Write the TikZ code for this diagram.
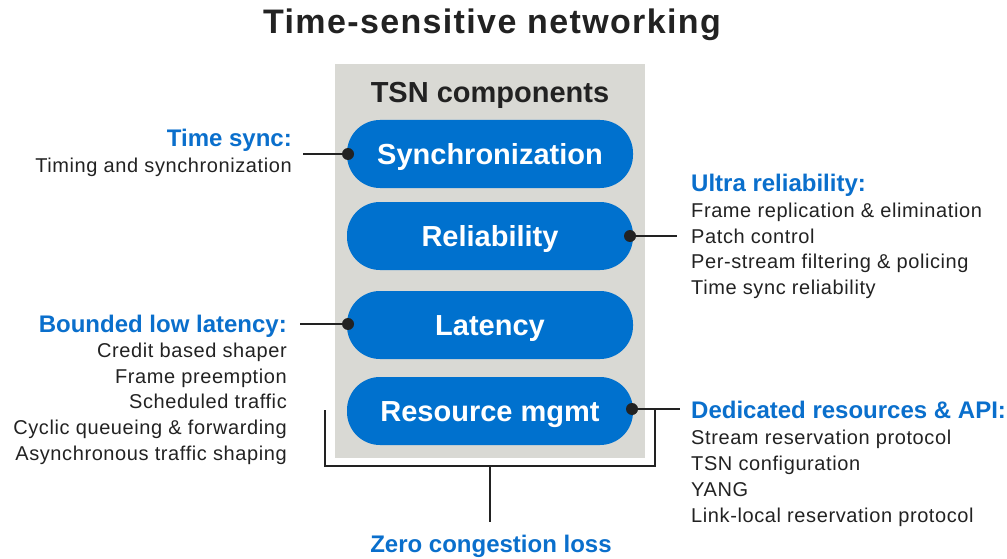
\documentclass[tikz,border=0pt]{standalone}
\usepackage{fontspec}
\setmainfont{Liberation Sans}
\newfontfamily\bodyfont[LetterSpace=3]{Liberation Sans}
\newfontfamily\titlefont[LetterSpace=4]{Liberation Sans}
\definecolor{tsnblue}{HTML}{0071CE}
\definecolor{headblue}{HTML}{0A6FCC}
\definecolor{boxgray}{HTML}{D9D9D4}
\definecolor{ink}{HTML}{222222}
\begin{document}
\begin{tikzpicture}[x=1pt,y=-1pt,
  pill/.style={fill=tsnblue, rounded corners=33pt, minimum width=286pt, minimum height=68pt, inner sep=0pt,
    text=white, font=\fontsize{29}{32}\selectfont\bfseries, text height=21pt, text depth=0pt},
  head/.style={inner sep=0pt, text=headblue, font=\fontsize{24}{27}\selectfont\bfseries},
  body/.style={inner sep=0pt, text=ink, font=\fontsize{20}{23}\bodyfont},
  conn/.style={draw=ink, line width=2.5pt},
  dot/.style={circle, fill=ink, inner sep=0pt, minimum size=12pt}]
\useasboundingbox (0,0) rectangle (1007,559);
% title
\node[inner sep=0pt, anchor=base, text=ink, font=\fontsize{34}{38}\titlefont\bfseries] (title) at (492,34) {Time-sensitive networking};
% gray panel
\fill[boxgray] (335,64) rectangle (645,458);
\node[inner sep=0pt, anchor=base, text=ink, font=\fontsize{29}{32}\selectfont\bfseries] (comp) at (490,103) {TSN components};
% pills
\node[pill] (sync) at (490,154) {Synchronization};
\node[pill] (rel) at (490,236) {Reliability};
\node[pill] (lat) at (490,325) {Latency};
\node[pill] (res) at (490,411) {Resource mgmt};
% dots
\node[dot] (d1) at (348,154) {};
\node[dot] (d2) at (630,236) {};
\node[dot] (d3) at (348,324) {};
\node[dot] (d4) at (632,409) {};
\coordinate (e1) at (303,154);
\coordinate (e2) at (677,236);
\coordinate (e3) at (300,324);
\coordinate (e4) at (680,409);
\draw[conn] (d1.center) -- (e1);
\draw[conn] (d2.center) -- (e2);
\draw[conn] (d3.center) -- (e3);
\draw[conn] (d4.center) -- (e4);
% bracket
\coordinate (bl) at (325,410);
\coordinate (br) at (655,409);
\coordinate (bm) at (490,466);
\coordinate (bs) at (490,522);
\draw[conn] (bl) |- (bm) -| (br);
\draw[conn] (bm) -- (bs);
\node[inner sep=0pt, anchor=base, text=headblue, font=\fontsize{24}{27}\selectfont\bfseries] (zero) at (491,552) {Zero congestion loss};
% left labels
\node[head, anchor=base east] (ts) at (292,147) {Time sync:};
\node[body, anchor=base east] (ts1) at (292,173) {Timing and synchronization};
\node[head, anchor=base east] (bl0) at (287,332) {Bounded low latency:};
\node[body, anchor=base east] (bl1) at (287,357) {Credit based shaper};
\node[body, anchor=base east] (bl2) at (287,383) {Frame preemption};
\node[body, anchor=base east] (bl3) at (287,408) {Scheduled traffic};
\node[body, anchor=base east] (bl4) at (287,434) {Cyclic queueing \& forwarding};
\node[body, anchor=base east] (bl5) at (287,460) {Asynchronous traffic shaping};
% right labels
\node[head, anchor=base west] (ur) at (691,192) {Ultra reliability:};
\node[body, anchor=base west] (ur1) at (691,217) {Frame replication \& elimination};
\node[body, anchor=base west] (ur2) at (691,243) {Patch control};
\node[body, anchor=base west] (ur3) at (691,268) {Per-stream filtering \& policing};
\node[body, anchor=base west] (ur4) at (691,294) {Time sync reliability};
\node[head, anchor=base west] (dr) at (691,418) {Dedicated resources \& API:};
\node[body, anchor=base west] (dr1) at (691,444) {Stream reservation protocol};
\node[body, anchor=base west] (dr2) at (691,470) {TSN configuration};
\node[body, anchor=base west] (dr3) at (691,496) {YANG};
\node[body, anchor=base west] (dr4) at (691,522) {Link-local reservation protocol};
\end{tikzpicture}
\end{document}
